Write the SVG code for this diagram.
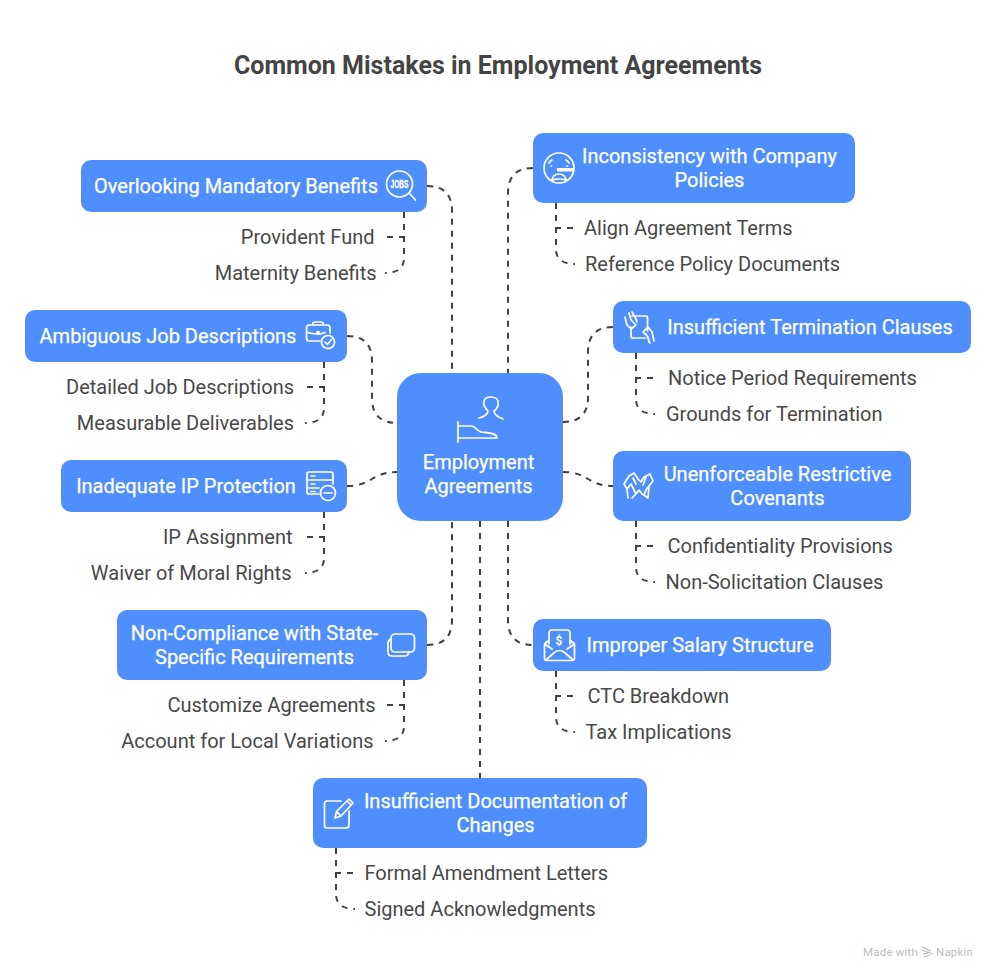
<svg xmlns="http://www.w3.org/2000/svg" width="996" height="979" viewBox="0 0 996 979">
<style>
.box{fill:#4f8ffd}
.t{font-family:Roboto,"Liberation Sans",sans-serif;font-size:20px;font-weight:400;fill:#fff;stroke:#fff;stroke-width:.25px;text-anchor:middle}
.l{font-family:Roboto,"Liberation Sans",sans-serif;font-size:20px;fill:#484848}
.e{text-anchor:end}
.c{fill:none;stroke:#404040;stroke-width:2;stroke-dasharray:6 6}
.i{fill:none;stroke:#fff;stroke-width:1.7;stroke-linecap:round;stroke-linejoin:round}
</style>
<rect width="996" height="979" fill="#fff"/>
<text x="498" y="74" text-anchor="middle" font-family="Roboto,'Liberation Sans',sans-serif" font-size="25" font-weight="700" fill="#444">Common Mistakes in Employment Agreements</text>
<g id="connectors">
<path class="c" d="M427 186Q452 186 452 211V373"/>
<path class="c" d="M347 336Q372 336 372 361V398Q372 423 397 423"/>
<path class="c" d="M347 486C372 486 372 472 397 472"/>
<path class="c" d="M427 645Q452 645 452 620V521"/>
<path class="c" d="M480 521V778"/>
<path class="c" d="M533 168Q508 168 508 193V373"/>
<path class="c" d="M613 327Q588 327 588 352V397Q588 422 563 422"/>
<path class="c" d="M563 472C588 472 588 486 613 486"/>
<path class="c" d="M508 521V620Q508 645 533 645"/>
<path class="c" d="M404 212V237H386"/><path class="c" d="M404 212V258Q404 273 385 273"/>
<path class="c" d="M324 362V387H306"/><path class="c" d="M324 362V408Q324 423 305 423"/>
<path class="c" d="M324 512V537H306"/><path class="c" d="M324 512V558Q324 573 305 573"/>
<path class="c" d="M404 680V705H386"/><path class="c" d="M404 680V726Q404 741 385 741"/>
<path class="c" d="M556 203V228H574"/><path class="c" d="M556 203V249Q556 264 575 264"/>
<path class="c" d="M636 353V378H654"/><path class="c" d="M636 353V399Q636 414 655 414"/>
<path class="c" d="M636 521V546H654"/><path class="c" d="M636 521V567Q636 582 655 582"/>
<path class="c" d="M556 671V696H574"/><path class="c" d="M556 671V717Q556 732 575 732"/>
<path class="c" d="M336 848V873H354"/><path class="c" d="M336 848V894Q336 909 355 909"/>
</g>
<g id="central">
<rect class="box" x="397" y="373" width="166" height="148" rx="24"/>
<path class="i" d="M479 418C484 417 488 414 488 411C484 407 483 403 484 402C484 398 487 397 491 397C495 397 498 399 498 402C499 405 497 409 494 411C494 414 498 417 503 419"/>
<path class="i" d="M458 422V442M458 426H472C476 427 477 431 481 432C488 433 497 433 497 438H458"/>
<text class="t" x="478.500" y="469">Employment</text><text class="t" x="478.500" y="493">Agreements</text>
</g>
<g id="overlooking">
<rect class="box" x="81" y="160" width="346" height="52" rx="10"/>
<text class="t" x="236" y="193">Overlooking Mandatory Benefits</text>
<circle class="i" cx="399.500" cy="184" r="13"/><path class="i" d="M409 193L415.500 200"/>
<text x="399.500" y="187.500" text-anchor="middle" font-family="'Liberation Sans',sans-serif" font-size="10" font-weight="700" textLength="18" lengthAdjust="spacingAndGlyphs" fill="#fff" stroke="#fff" stroke-width=".3">JOBS</text>
<text class="l e" x="374.500" y="244">Provident Fund</text><text class="l e" x="376.500" y="280">Maternity Benefits</text>
</g>
<g id="ambiguous">
<rect class="box" x="25" y="310" width="322" height="52" rx="10"/>
<text class="t" x="168" y="343">Ambiguous Job Descriptions</text>
<path class="i" d="M320 341H309Q306.500 341 306.500 338V328Q306.500 325 309 325H327Q330 325 330 328V333M313 325V323Q313 322 315 322H321Q323 322 323 323V325M306.500 332Q312 334 316 334M320 334L325 332.500"/><circle class="i" cx="318" cy="333" r="1.300"/>
<circle class="i" cx="328" cy="342" r="6.500" stroke-dasharray="3 .6"/><path class="i" d="M325 342L327.500 344.500L331.500 339.500"/>
<text class="l e" x="294" y="394">Detailed Job Descriptions</text><text class="l e" x="294" y="430">Measurable Deliverables</text>
</g>
<g id="inadequate">
<rect class="box" x="61" y="460" width="286" height="52" rx="10"/>
<text class="t" x="186" y="493">Inadequate IP Protection</text>
<path class="i" d="M319 494H309Q307 494 307 492V474Q307 472 309 472H331Q333 472 333 474V484M307 480H333M307 488H319M311 476H315M311 484H315M311 491.500H315"/>
<circle class="i" cx="328" cy="493" r="7.500"/><path class="i" d="M324 493H332"/>
<text class="l e" x="292.500" y="544">IP Assignment</text><text class="l e" x="291.500" y="580">Waiver of Moral Rights</text>
</g>
<g id="noncompliance">
<rect class="box" x="117" y="610" width="310" height="70" rx="10"/>
<text class="t" x="254.500" y="640">Non-Compliance with State-</text><text class="t" x="254.500" y="664">Specific Requirements</text>
<rect class="i" x="391" y="634" width="23.500" height="18" rx="4"/><path class="i" d="M391 639Q388 640 388 643V652Q388 656 392 656H405Q408 656 409 652"/>
<text class="l e" x="375.500" y="712">Customize Agreements</text><text class="l e" x="373.500" y="748">Account for Local Variations</text>
</g>
<g id="documentation">
<rect class="box" x="313" y="778" width="334" height="70" rx="10"/>
<text class="t" x="495.500" y="808">Insufficient Documentation of</text><text class="t" x="495.500" y="832">Changes</text>
<path class="i" d="M341 801H327Q324.500 801 324.500 804V825Q324.500 828 327 828H346Q349 828 349 825V811"/>
<path class="i" d="M335 818L336.500 811.500L349 799L353 803L341 816ZM336.500 811.500L341 816M347 801L351 805"/>
<text class="l" x="364.500" y="880">Formal Amendment Letters</text><text class="l" x="364.500" y="916">Signed Acknowledgments</text>
</g>
<g id="inconsistency">
<rect class="box" x="533" y="133" width="322" height="70" rx="10"/>
<text class="t" x="709.500" y="163">Inconsistency with Company</text><text class="t" x="709.500" y="187">Policies</text>
<circle class="i" cx="559" cy="168" r="15"/><path class="i" d="M552 160Q550 161 549 163M566 160Q568 161 569 163M551 166H551.500M567 166H567.500"/>
<rect x="557" y="168" width="17" height="3.500" fill="#fff"/><path class="i" d="M552 180Q553 174 559 174Q565 174 566 180Q559 178 552 180Z"/>
<text class="l" x="584" y="235">Align Agreement Terms</text><text class="l" x="585" y="271">Reference Policy Documents</text>
</g>
<g id="termination">
<rect class="box" x="613" y="301" width="358" height="52" rx="10"/>
<text class="t" x="810" y="334">Insufficient Termination Clauses</text>
<path class="i" d="M632 316H646Q647.500 316 647.500 318V331M645 338H633Q631 338 631 336V327"/>
<path class="i" d="M625 317L627 325L631 329L636 325L631 320L629 313M632 312L636 319L637 322"/>
<path class="i" d="M654 341L652 332L648 327L643 332L648 337L649 342M646 334L650 343"/>
<text class="l" x="668" y="385">Notice Period Requirements</text><text class="l" x="666" y="421">Grounds for Termination</text>
</g>
<g id="unenforceable">
<rect class="box" x="613" y="451" width="298" height="70" rx="10"/>
<text class="t" x="777.500" y="481">Unenforceable Restrictive</text><text class="t" x="777.500" y="505">Covenants</text>
<path class="i" d="M629 476L634 473L638 479L641 482L644 477L650 474L653 481L649 486L648 498M629 476L624 484L627 489L628 498M627 489L631 484L633 488L636 494L632 498M633 478L636 484M649 486L646 490L644 495L648 498M646 477L643 485M636 494L639 490L642 494L644 495"/>
<text class="l" x="667.500" y="553">Confidentiality Provisions</text><text class="l" x="665.500" y="589">Non-Solicitation Clauses</text>
</g>
<g id="salary">
<rect class="box" x="533" y="619" width="298" height="52" rx="10"/>
<text class="t" x="700" y="652">Improper Salary Structure</text>
<path class="i" d="M549 644V633Q549 630 552 630H567Q570 630 570 633V644M549 640L544.500 644V658Q544.500 660.500 547 660.500H572Q574.500 660.500 574.500 658V644L570 640M544.500 644L552 649M574.500 644L567 649M547 659L555 652Q559.500 649 564 652L572 659"/>
<text x="559" y="645" text-anchor="middle" font-family="Roboto,sans-serif" font-size="12" font-weight="700" fill="#fff">$</text>
<text class="l" x="587.500" y="703">CTC Breakdown</text><text class="l" x="585.500" y="739">Tax Implications</text>
</g>
<g id="footer">
<text x="863" y="956" font-family="Roboto,'Liberation Sans',sans-serif" font-size="11.500" letter-spacing=".2" fill="#bdbdbd">Made with</text>
<path d="M922 947L931 951M922 950L933 954M923 954L930 952M924 957L930 955" fill="none" stroke="#bdbdbd" stroke-width="1.300"/>
<text x="936" y="956" font-family="Roboto,'Liberation Sans',sans-serif" font-size="11.500" letter-spacing=".2" fill="#bdbdbd">Napkin</text>
</g>
</svg>
